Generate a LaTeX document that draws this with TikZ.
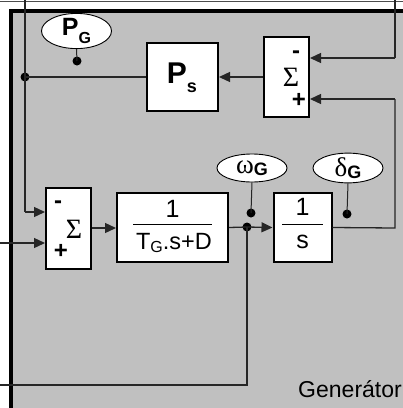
\documentclass[tikz,border=0pt]{standalone}
\usepackage{fontspec}
\setmainfont{Liberation Sans}
\newfontfamily\seriffam{Liberation Serif}
\usetikzlibrary{arrows.meta,shapes.geometric}
\definecolor{panelgray}{RGB}{192,192,192}
\newcommand\fsz[1]{\fontsize{#1}{#1}\selectfont}
\tikzset{
  wire/.style={line width=1.3pt, draw=black!85},
  arr/.style={wire, -{Triangle[length=11pt,width=10pt]}},
  blockbox/.style={draw=black, line width=2pt, fill=white, inner sep=0pt},
  sigbubble/.style={draw=black, line width=0.9pt, fill=white, ellipse, minimum width=70pt, minimum height=30pt, inner sep=0pt},
  jdot/.style={circle, fill=black, inner sep=0pt, minimum size=9pt},
  txt/.style={inner sep=0pt, font=\fsz{23.5}},
  sgn/.style={inner sep=0pt, font=\fsz{24}\bfseries},
  sig/.style={inner sep=0pt, font=\seriffam\fsz{28}},
}
\begin{document}
\begin{tikzpicture}[x=1pt,y=-1pt]
\useasboundingbox (0,0) rectangle (403,408);
\begin{scope}
\clip (0,0) rectangle (403,408);
% outer thin line
\draw[line width=1pt, draw=black!70] (0,1) -- (403,1);
% panel
\fill[panelgray] (11,11) rectangle (420,420);
\draw[line width=3.6pt] (420,11) -- (11,11) -- (11,420);

% blocks
\node[blockbox, minimum width=71pt, minimum height=68pt] (ps) at (182.5,77) {};
\node[inner sep=0pt, font=\fsz{30}\bfseries] (pslbl) at (182,78) {P\raisebox{-0.3em}{\fsz{18}\bfseries s}};
\node[blockbox, minimum width=45pt, minimum height=80pt] (topsum) at (286.5,77) {};
\node[sgn] (tsminus) at (296,55) {-};
\node[sig] (tssigma) at (291,77) {Σ};
\node[sgn] (tsplus) at (299,100) {+};

\node[blockbox, minimum width=45pt, minimum height=81pt] (lowsum) at (68.5,228.5) {};
\node[sgn] (lsminus) at (58,205) {-};
\node[sig] (lssigma) at (74,229) {Σ};
\node[sgn] (lsplus) at (61,251) {+};

\node[blockbox, minimum width=111pt, minimum height=69pt] (tg) at (172.5,227.5) {};
\node[txt, font=\fsz{25}] (tgnum) at (172.5,209) {1};
\node[txt] (tgden) at (174,243) {T\raisebox{-0.15em}{\fsz{16}G}.s+D};
\draw[line width=1pt] (133,224) -- (212,224);

\node[blockbox, minimum width=58pt, minimum height=69pt] (integ) at (302.5,227.5) {};
\node[txt, font=\fsz{25}] (innum) at (302.5,207) {1};
\node[txt, font=\fsz{25}] (inden) at (302.5,242) {s};
\draw[line width=1pt] (282,224) -- (323,224);

% signal bubbles
\node[sigbubble] (pg) at (76.5,31) {\fsz{25}\bfseries P\raisebox{-0.3em}{\fsz{16}\bfseries G}};
\node[sigbubble, minimum height=28pt] (wg) at (252,168) {{\seriffam\fsz{27}ω}\raisebox{-0.2em}{\fsz{18}\bfseries G}};
\node[sigbubble, minimum height=28pt] (dg) at (348,168) {{\seriffam\fsz{27}δ}\raisebox{-0.2em}{\fsz{18}\bfseries G}};

% junctions and coordinates
\node[jdot] (j1) at (25,77) {};
\node[jdot] (j2) at (247,227) {};
\node[jdot] (pgdot) at (77,61) {};
\node[jdot] (wgdot) at (251,213) {};
\node[jdot] (dgdot) at (347,214) {};
\coordinate (ltop) at (25,0);
\coordinate (rtop) at (395,0);
\coordinate (lsin1) at (25,212);
\coordinate (inleft) at (0,243);
\coordinate (outleft) at (0,385);
\coordinate (outcorner) at (247,385);
\coordinate (rcorner) at (395,228);

% wires
\draw[wire] (ps.west) -- (j1.center);
\draw[wire] (ltop) -- (j1.center) -- (lsin1);
\draw[arr] (lsin1) -- (lowsum.west |- lsin1);
\draw[arr] (inleft) -- (lowsum.west |- inleft);
\draw[arr] (lowsum.east |- 0,228) -- (tg.west |- 0,228);
\draw[wire] (tg.east) -- (j2.center);
\draw[arr] (j2.center) -- (integ.west);
\draw[wire] (j2.center) -- (outcorner) -- (outleft);
\draw[wire] (integ.east) -- (rcorner) -- (395,99);
\draw[arr] (395,99) -- (topsum.east |- 0,99);
\draw[wire] (rtop) -- (395,58);
\draw[arr] (395,58) -- (topsum.east |- 0,58);
\draw[arr] (topsum.west) -- (ps.east);
\draw[wire, line width=1pt] (pg.south) -- (pgdot.center);
\draw[wire, line width=1pt] (wg.south) -- (wgdot.center);
\draw[wire, line width=1pt] (dg.south) -- (dgdot.center);

\node[inner sep=0pt, anchor=base east, font=\fsz{23}] (gen) at (402,397) {Generátor};
\end{scope}
\end{tikzpicture}
\end{document}
